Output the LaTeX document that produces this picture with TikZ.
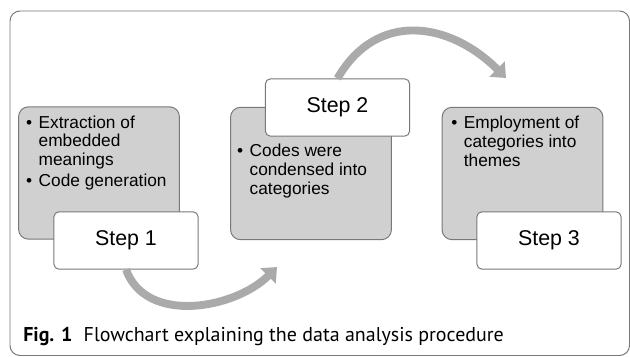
\documentclass[tikz,border=0pt]{standalone}
\usepackage{fontspec}
\setmainfont{Liberation Sans}
\newfontfamily\capfont{PT Sans}
\usetikzlibrary{arrows.meta}

\definecolor{boxgrey}{RGB}{208,208,208}
\definecolor{edgegrey}{RGB}{120,120,120}
\definecolor{arrowgrey}{RGB}{170,170,170}

\newcommand{\dotmark}{\makebox[9pt][l]{\textbullet}}
\newcommand{\pointlist}[1]{\begin{tabular}{@{}l@{}l@{}}#1\end{tabular}}

\tikzset{
  stage/.style={draw=edgegrey, line width=0.7pt, fill=boxgrey, rounded corners=0.25cm,
    minimum width=4.02cm, minimum height=3.31cm, inner sep=0pt},
  steptag/.style={draw=edgegrey, line width=0.7pt, fill=white, rounded corners=0.12cm,
    minimum width=3.6cm, minimum height=1.43cm, inner sep=0pt,
    font=\fontsize{15.2}{17}\selectfont},
  bullets/.style={anchor=north west, inner sep=0pt,
    font=\fontsize{12.3}{13.3}\selectfont},
  flow/.style={line width=5.6pt, draw=arrowgrey, -{Triangle[length=9pt,width=15pt]}}
}

\begin{document}
\begin{tikzpicture}[x=0.025cm,y=0.025cm]
  \useasboundingbox (0,0) rectangle (630,356);
  % frame
  \draw[edgegrey, line width=0.7pt, rounded corners=0.25cm] (10,0.5) rectangle (629.5,345);

  % grey boxes
  \node[stage] (box1) at (99,183) {};
  \node[stage] (box2) at (311,182.5) {};
  \node[stage] (box3) at (522.5,182.5) {};

  % texts
  \node[bullets] (text1) at ([shift={(7.7,-8.5)}]box1.north west)
    {\pointlist{\dotmark & Extraction of\\ & embedded\\ & meanings\\[1.5pt] \dotmark & Code generation}};
  \node[bullets] (text2) at ([shift={(6.7,-36.5)}]box2.north west)
    {\pointlist{\dotmark & Codes were\\ & condensed into\\ & categories}};
  \node[bullets] (text3) at ([shift={(9.4,-8.5)}]box3.north west)
    {\pointlist{\dotmark & Employment of\\ & categories into\\ & themes}};

  % step labels
  \node[steptag] (step1) at (126,115.5) {Step 1};
  \node[steptag] (step2) at (337.5,248.5) {Step 2};
  \node[steptag] (step3) at (549,115.5) {Step 3};

  % arrows
  \coordinate (tip1) at (277,89);
  \coordinate (tip2) at (506,278);
  \draw[flow] (step1.south) to[out=-70,in=-135] (tip1);
  \draw[flow] (step2.north) to[out=60,in=135,looseness=1.2] (tip2);

  % caption
  \node[anchor=base west, inner sep=0pt, font=\capfont\fontsize{14.2}{16}\selectfont] (cap) at (23,15)
    {\textbf{Fig. 1}\hspace{8pt}Flowchart explaining the data analysis procedure};
\end{tikzpicture}
\end{document}
